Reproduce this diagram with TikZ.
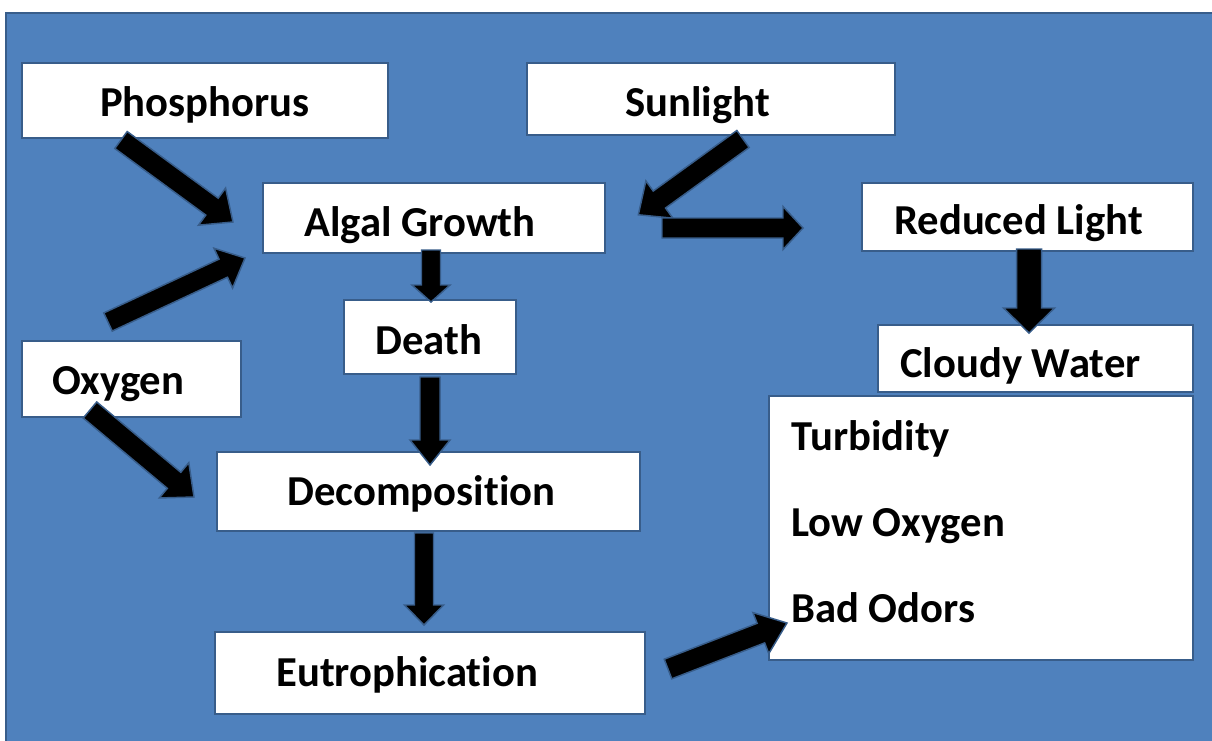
\documentclass[tikz,border=0pt]{standalone}
\usepackage{fontspec}
\setmainfont{Carlito}[Ligatures=NoCommon]
\usetikzlibrary{fit}
\definecolor{bgblue}{RGB}{79,129,189}
\definecolor{edgeblue}{RGB}{56,93,138}
\tikzset{
  box/.style={draw=edgeblue, line width=1.6pt, fill=white, inner sep=0pt},
  lbl/.style={anchor=base west, inner sep=0pt, font=\fontsize{32}{36}\selectfont\bfseries},
  barrowsty/.style={fill=black, draw=edgeblue, line width=1.1pt, line join=miter}
}
% block arrow: #1 start, #2 end, #3 shaft width px, #4 head width px, #5 head length px
\newcommand{\blockarrow}[5]{%
  \pgfpointdiff{\pgfpointanchor{#1}{center}}{\pgfpointanchor{#2}{center}}%
  \pgfgetlastxy{\baDX}{\baDY}%
  \pgfmathsetmacro\baAng{atan2(\baDY,\baDX)}%
  \pgfmathsetmacro\baLen{veclen(\baDX,\baDY)}%
  \pgfmathsetmacro\baS{#3*0.375}%
  \pgfmathsetmacro\baH{#4*0.375}%
  \pgfmathsetmacro\baA{\baLen-#5*0.75}%
  \begin{scope}[shift={(#1)}, rotate=\baAng]
    \filldraw[barrowsty] (0pt,\baS pt) -- (\baA pt,\baS pt) -- (\baA pt,\baH pt) -- (\baLen pt,0pt)
      -- (\baA pt,-\baH pt) -- (\baA pt,-\baS pt) -- (0pt,-\baS pt) -- cycle;
  \end{scope}%
}
\begin{document}
\begin{tikzpicture}[x=0.75pt,y=-0.75pt]
\useasboundingbox (0,0) rectangle (1212,740);
\fill[white] (0,0) rectangle (1212,740);
\draw[fill=bgblue, draw=edgeblue, line width=1.5pt] (6,13) rectangle (1225,760);

% boxes
\node[box, fit={(22,63) (388,138)}] (phos) {};
\node[box, fit={(527,63) (895,135)}] (sun) {};
\node[box, fit={(263,183) (605,253)}] (algal) {};
\node[box, fit={(862,183) (1193,251)}] (reduced) {};
\node[box, fit={(344,300) (516,374)}] (death) {};
\node[box, fit={(878,325) (1193,392)}] (cloudy) {};
\node[box, fit={(22,341) (241,417)}] (oxy) {};
\node[box, fit={(217,452) (640,531)}] (decomp) {};
\node[box, fit={(215,632) (645,714)}] (eutro) {};
\node[box, fit={(769,396) (1193,660)}] (effects) {};

% labels
\node[lbl] (tphos) at (100,116) {Phosphorus};
\node[lbl] (tsun) at (625,116) {Sunlight};
\node[lbl] (talgal) at (304,236) {Algal Growth};
\node[lbl] (treduced) at (894,234) {Reduced Light};
\node[lbl] (tdeath) at (375,354) {Death};
\begin{scope}
  \clip (878,325) rectangle (1193,383);
  \node[lbl] (tcloudy) at (900,377) {Cloudy Water};
\end{scope}
\node[lbl] (toxy) at (52,394) {Oxygen};
\node[lbl] (tdecomp) at (287,505) {Decomposition};
\node[lbl] (teutro) at (276,686) {Eutrophication};
\node[lbl] (tturb) at (791,450) {Turbidity};
\node[lbl] (tlow) at (791,536) {Low Oxygen};
\node[lbl] (tbad) at (791,622) {Bad Odors};

% arrow end points
\coordinate (a1s) at (121,140); \coordinate (a1e) at (233,222);
\coordinate (a2s) at (108,322); \coordinate (a2e) at (245,258);
\coordinate (a3s) at (90,410);  \coordinate (a3e) at (194,497);
\coordinate (a4s) at (743,139); \coordinate (a4e) at (638,215);
\coordinate (a5s) at (662,228); \coordinate (a5e) at (803,228);
\coordinate (a6s) at (431,250); \coordinate (a6e) at (431,302);
\coordinate (a7s) at (430,377); \coordinate (a7e) at (430,465);
\coordinate (a8s) at (424,533); \coordinate (a8e) at (424,625);
\coordinate (a9s) at (1029,249); \coordinate (a9e) at (1029,333);
\coordinate (a10s) at (668,669); \coordinate (a10e) at (787,623);

\blockarrow{a1s}{a1e}{21}{46}{26}
\blockarrow{a2s}{a2e}{20}{44}{24}
\blockarrow{a3s}{a3e}{21}{46}{26}
\blockarrow{a4s}{a4e}{21}{46}{26}
\blockarrow{a5s}{a5e}{20}{43}{20}
\blockarrow{a6s}{a6e}{19}{38}{17}
\blockarrow{a7s}{a7e}{20}{40}{25}
\blockarrow{a8s}{a8e}{19}{39}{20}
\blockarrow{a9s}{a9e}{25}{51}{25}
\blockarrow{a10s}{a10e}{21}{44}{28}
\end{tikzpicture}
\end{document}
